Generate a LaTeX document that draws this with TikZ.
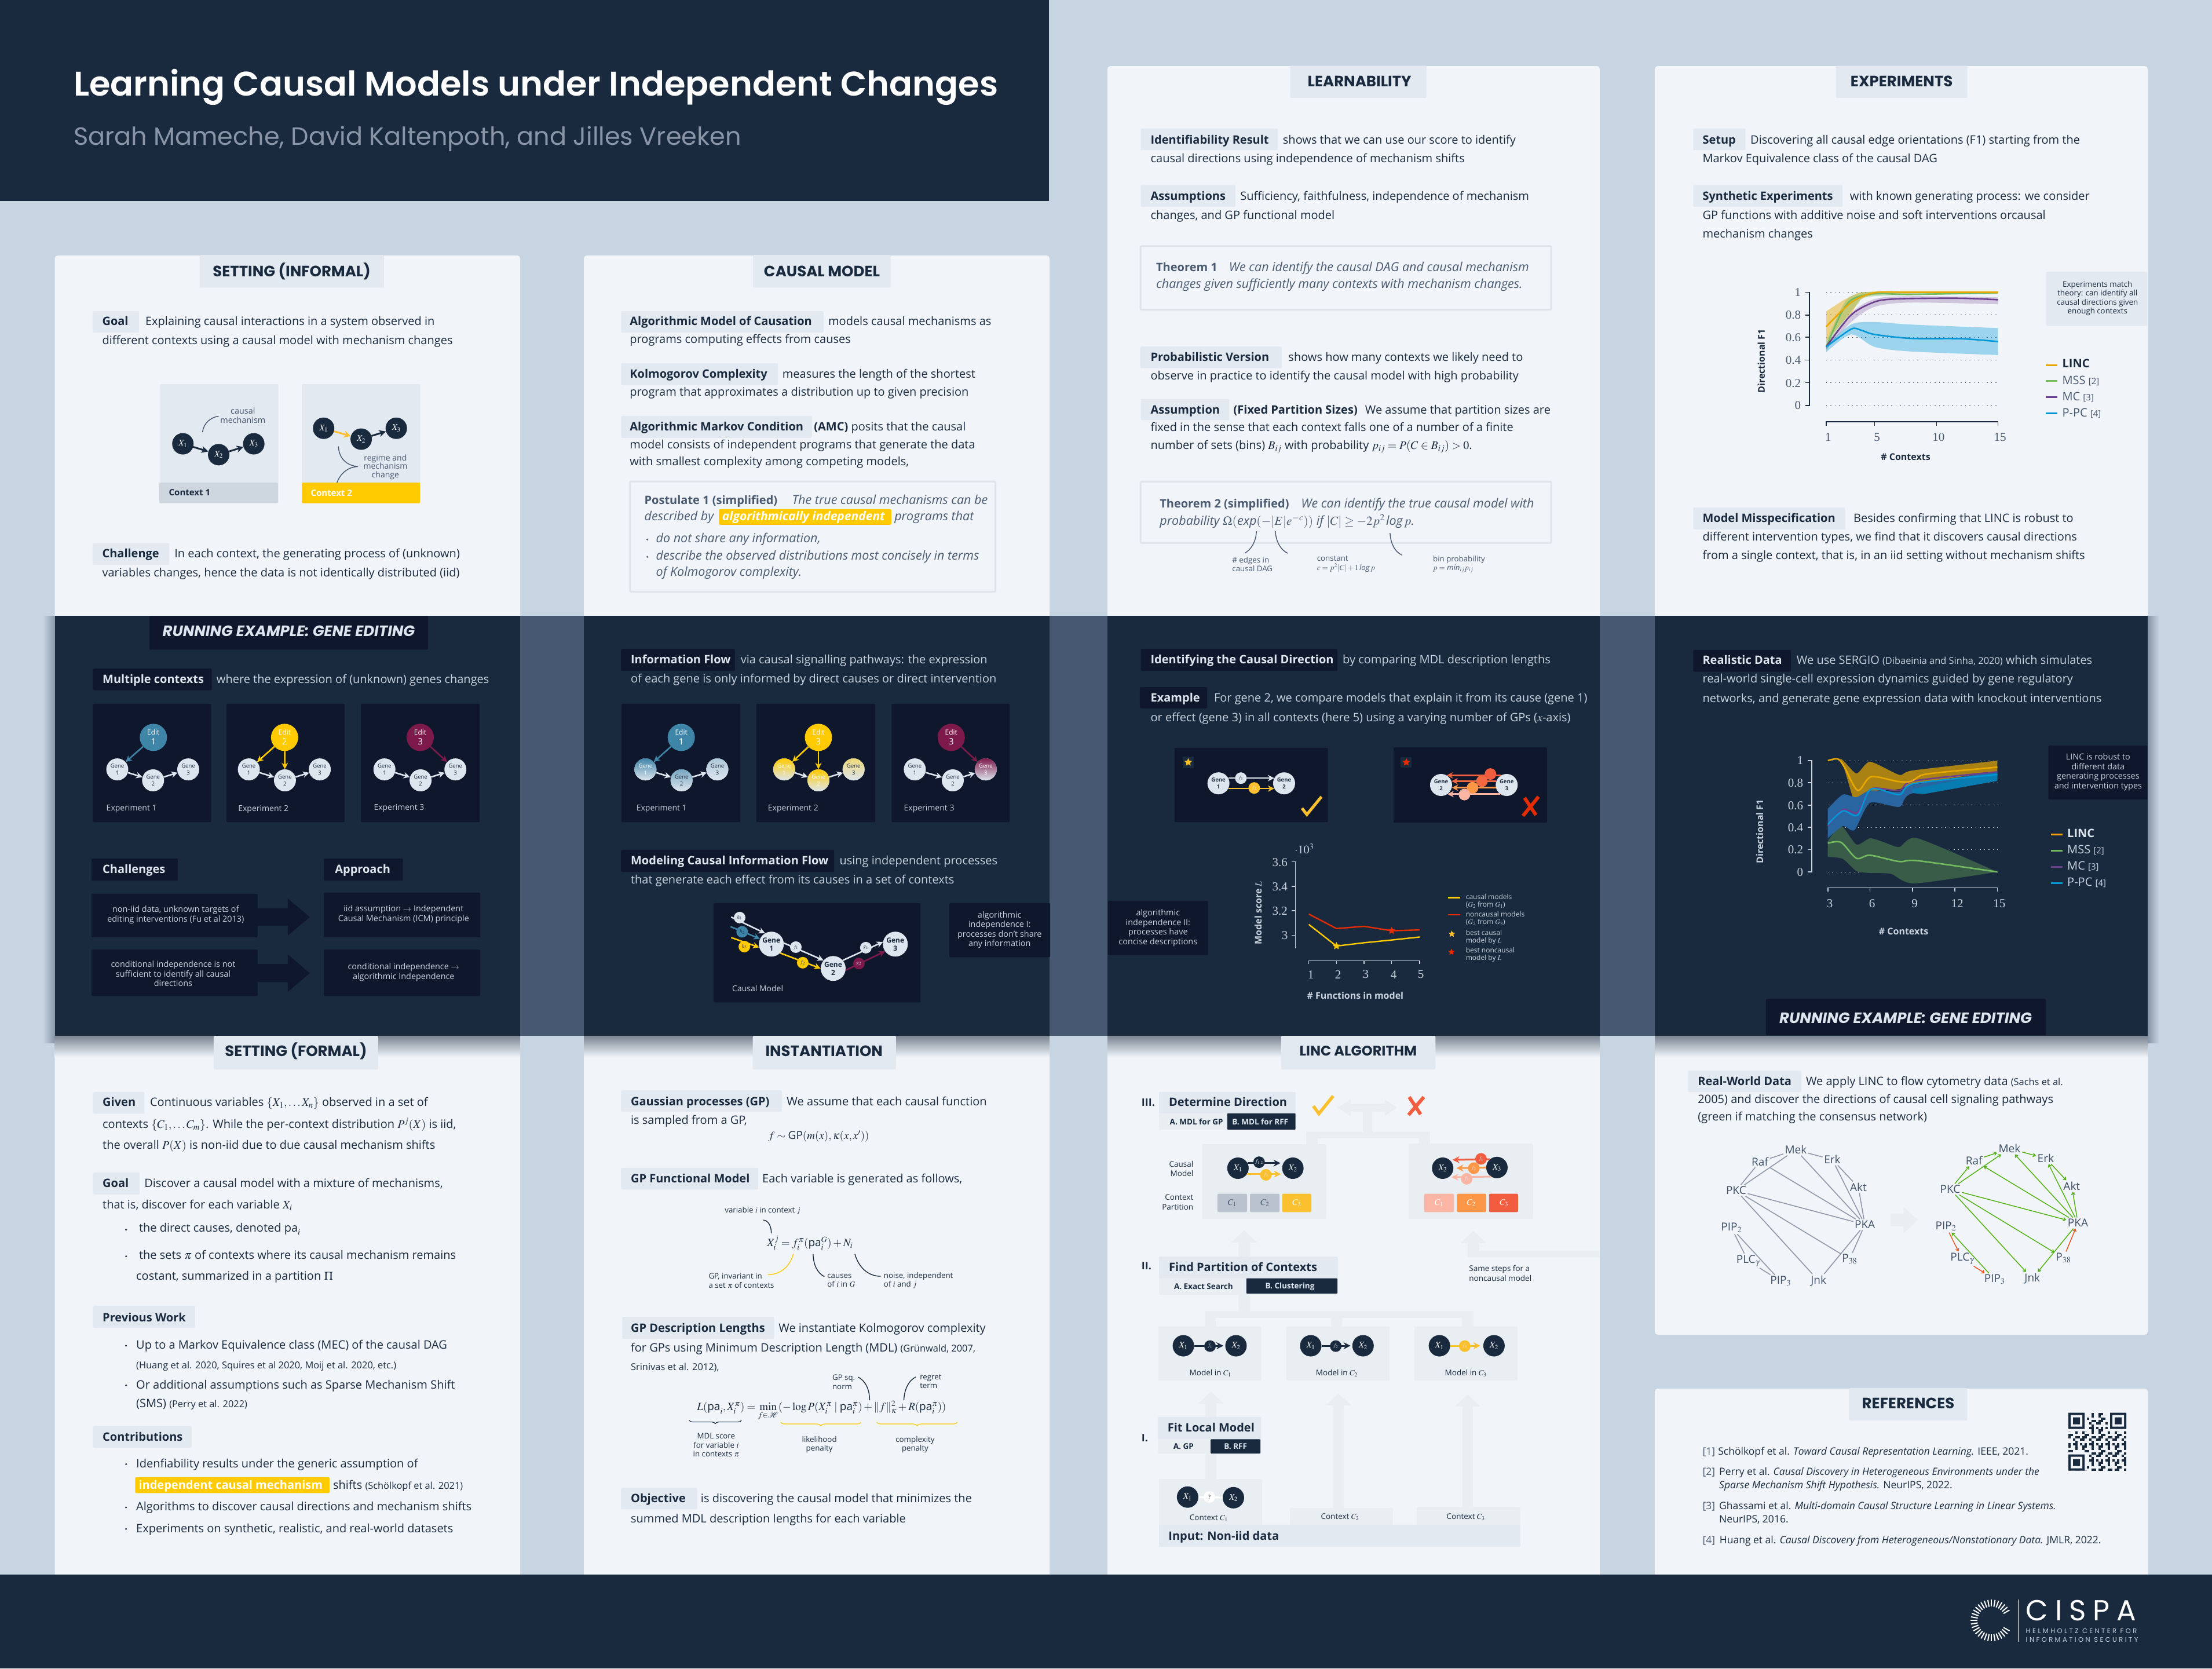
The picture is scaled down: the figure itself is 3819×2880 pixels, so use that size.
\documentclass[tikz,border=0pt]{standalone}
\usepackage{amsmath}
\usepackage{mathptmx}
\usepackage{fontspec}
\setmainfont{Open Sans}
\newfontfamily\headfont{Poppins}
\newfontfamily\titlefont{Poppins SemiBold}
\newfontfamily\tickfont{Liberation Serif}
\usetikzlibrary{arrows.meta,decorations.pathreplacing,shapes.geometric}
\definecolor{bgc}{HTML}{C7D4E1}
\definecolor{panelc}{HTML}{F1F5FA}
\definecolor{tagc}{HTML}{E2E9F1}
\definecolor{inkc}{HTML}{1A2A3E}
\definecolor{gapc}{HTML}{475872}
\definecolor{darkc}{HTML}{0E172B}
\definecolor{lightc}{HTML}{C9D3DF}
\definecolor{palec}{HTML}{DDE5EE}
\definecolor{boxc}{HTML}{DFE3EA}
\definecolor{mutedc}{HTML}{4A5A70}
\definecolor{yellc}{HTML}{FFCB00}
\definecolor{ambc}{HTML}{FBC02D}
\definecolor{bluec}{HTML}{3F85A8}
\definecolor{maroonc}{HTML}{7E1A4B}
\definecolor{redc}{HTML}{E32D00}
\definecolor{coral}{HTML}{F25C3F}
\definecolor{orangc}{HTML}{FB9747}
\definecolor{salmc}{HTML}{FBB5A5}
\definecolor{annotc}{HTML}{47566E}
\definecolor{flowc}{HTML}{E9EEF3}
\definecolor{lincc}{HTML}{E8A800}
\definecolor{mssc}{HTML}{73B95E}
\definecolor{mcc}{HTML}{6E3F8F}
\definecolor{ppcc}{HTML}{0097D6}
\definecolor{netc}{HTML}{3F4F66}
\definecolor{greyedge}{HTML}{8F97A8}
\definecolor{greenedge}{HTML}{4CAF0A}
\definecolor{rededge}{HTML}{F04E1B}
\newcommand{\pa}{\textnormal{pa}}
\newcommand{\reftxt}[1]{{\fontsize{16.4}{20}\selectfont #1}}
\newcommand{\genetrio}[7]{
	\node[genenode,#5] (#1a) at (#2,568) {Gene\\1};
	\node[genenode,#6] (#1b) at (#3,608) {Gene\\2};
	\node[genenode,#7] (#1c) at (#4,568) {Gene\\3};
	\draw[geneedge] (#1a) -- (#1b);
	\draw[geneedge] (#1b) -- (#1c);
}
\tikzset{
	crop/.style n args={4}{shift={(#1,#2)},x=#3pt,y=-#4pt},
	body/.style={anchor=base west,inner sep=0pt,text=inkc,font=\fontsize{20}{24}\selectfont},
	bodyb/.style={body,font=\fontsize{20}{24}\selectfont\bfseries},
	bodyi/.style={body,text=mutedc,font=\fontsize{21.5}{26}\selectfont\itshape},
	bodym/.style={body,text=mutedc,font=\fontsize{20}{24}\selectfont\bfseries},
	bodyd/.style={body,text=lightc},
	bodydb/.style={body,text=palec,font=\fontsize{20}{24}\selectfont\bfseries},
	secthead/.style={inner sep=0pt,text=inkc,font=\headfont\bfseries\fontsize{26}{26}\selectfont},
	runhead/.style={inner sep=0pt,text=palec,font=\headfont\bfseries\itshape\fontsize{26}{26}\selectfont},
	tagfill/.style={fill=tagc,rounded corners=2pt},
	darkfill/.style={fill=darkc,rounded corners=2pt},
	note/.style={inner sep=0pt,align=center,text=lightc,font=\fontsize{14.4}{16.5}\selectfont},
	notel/.style={inner sep=0pt,align=left,anchor=west,text=annotc,font=\fontsize{13.3}{15.5}\selectfont},
	lightnote/.style={note,text=inkc,font=\fontsize{13.3}{15.5}\selectfont},
	caption/.style={anchor=base west,inner sep=0pt,text=lightc,font=\fontsize{14}{16}\selectfont},
	bullet/.style={circle,fill=inkc,minimum size=3.5pt,inner sep=0pt},
	varnode/.style={circle,fill=inkc,text=white,minimum size=37pt,inner sep=0pt,font=\fontsize{15}{15}\selectfont},
	edgedark/.style={draw=inkc,line width=3pt,-{Stealth[length=12pt,width=12pt]}},
	edgeyell/.style={edgedark,draw=#1},
	edgeyell/.default=ambc,
	annot/.style={draw=annotc,line width=1.4pt},
	genenode/.style={circle,fill=palec,text=inkc,minimum size=38pt,inner sep=0pt,align=center,font=\fontsize{9.5}{12}\selectfont},
	geneshade/.style={top color=#1,middle color=#1,bottom color=palec,shading angle=0,text=white},
	editnode/.style={circle,text=white,minimum size=47pt,inner sep=0pt,align=center,font=\fontsize{12}{17}\selectfont},
	geneedge/.style={draw=palec,line width=2.6pt,-{Stealth[length=11pt,width=11pt]}},
	funcnode/.style={circle,fill=#1,text=inkc,minimum size=20pt,inner sep=0pt,font=\fontsize{9}{9}\selectfont},
	tick/.style={inner sep=0pt,font=\tickfont\fontsize{21}{21}\selectfont},
	axislbl/.style={inner sep=0pt,font=\fontsize{16}{16}\selectfont\bfseries},
	starnode/.style={star,star points=5,star point ratio=2.1,fill=#1,minimum size=14pt,inner sep=0pt},
	netnode/.style={inner sep=2.5pt,text=netc,font=\fontsize{19}{22}\selectfont},
	netedge/.style={draw=greyedge,line width=1.6pt},
	netgreen/.style={draw=greenedge,line width=1.4pt,-{Straight Barb[length=4pt,width=6pt]}},
	netred/.style={netgreen,draw=rededge},
	refline/.style={anchor=base west,inner sep=0pt,text=inkc,font=\fontsize{17.5}{20}\selectfont},
	legtxt/.style={anchor=base west,inner sep=0pt,font=\fontsize{20}{22}\selectfont},
	stepnum/.style={anchor=base west,inner sep=0pt,text=inkc,font=\fontsize{18}{20}\selectfont\bfseries},
	optlbl/.style={anchor=base west,inner sep=0pt,text=inkc,font=\fontsize{13.5}{15}\selectfont\bfseries},
	optlbld/.style={optlbl,text=palec},
	algnote/.style={inner sep=0pt,text=inkc,font=\fontsize{13.5}{16.5}\selectfont},
}
\begin{document}
\begin{tikzpicture}[x=1pt,y=-1pt]
	\useasboundingbox (0,0) rectangle (3819,2880);
	\fill[bgc] (0,0) rectangle (3819,2880);
	\fill[panelc,rounded corners=5pt] (94.5,441) rectangle (898,2740);
	\fill[panelc,rounded corners=5pt] (1008,441) rectangle (1812,2740);
	\fill[panelc,rounded corners=5pt] (1912,114) rectangle (2762,2740);
	\fill[panelc,rounded corners=5pt] (2857,114) rectangle (3708,2304);
	\fill[panelc,rounded corners=5pt] (2857,2397) rectangle (3708,2740);
	\shade[left color=gapc!50!bgc,right color=bgc] (3708,1063) rectangle (3728,1800);
	\shade[right color=gapc!50!bgc,left color=bgc] (74,1063) rectangle (94.5,1800);
	\shade[top color=inkc!55!panelc,bottom color=panelc] (94.5,1788) rectangle (898,1825);
	\shade[top color=inkc!55!panelc,bottom color=panelc] (1008,1788) rectangle (1812,1825);
	\shade[top color=inkc!55!panelc,bottom color=panelc] (1912,1788) rectangle (2762,1825);
	\shade[top color=inkc!55!panelc,bottom color=panelc] (2857,1788) rectangle (3708,1825);
	\fill[gapc] (94.5,1063) rectangle (3708,1788);
	\fill[inkc] (94.5,1063) rectangle (898,1788);
	\fill[inkc] (1008,1063) rectangle (1812,1788);
	\fill[inkc] (1912,1063) rectangle (2762,1788);
	\fill[inkc] (2857,1063) rectangle (3708,1788);
	\fill[inkc] (0,0) rectangle (1811,347);
	\fill[inkc] (0,2718) rectangle (3819,2880);
	\node[anchor=base west,inner sep=0pt,text=white,font=\titlefont\fontsize{59}{60}\selectfont] (title) at (127,165) {Learning Causal Models under Independent Changes};
	\node[anchor=base west,inner sep=0pt,text=annotc!55!palec,font=\headfont\fontsize{43}{46}\selectfont] (authors) at (127,250) {Sarah Mameche, David Kaltenpoth, and Jilles Vreeken};

	\begin{scope}[crop={0}{400}{.606}{.4464}]
		\fill[tagfill] (569,90) rectangle (1094,216);
		\node[secthead] (ahead) at (831,153) {SETTING (INFORMAL)};
		\fill[tagfill] (264,307) rectangle (396,390);
		\node[bodyb] (agoal) at (291,362) {Goal};
		\node[body] (agoala) at (414,362) {Explaining causal interactions in a system observed in};
		\node[body] (agoalb) at (291,436) {different contexts using a causal model with mechanism changes};
		\fill[tagfill] (456,589) rectangle (793,1050);
		\fill[fill=inkc!10!tagc,rounded corners=2pt] (454,970) rectangle (792,1050);
		\node[anchor=base west,inner sep=0pt,text=inkc,font=\fontsize{15}{18}\selectfont\bfseries] (actxa) at (481,1021) {Context 1};
		\node[varnode] (axa) at (521,820) {$X_1$};
		\node[varnode] (axb) at (623,862) {$X_2$};
		\node[varnode] (axc) at (723,820) {$X_3$};
		\draw[edgedark] (axa) -- (axb);
		\draw[edgedark] (axb) -- (axc);
		\node[note,text=annotc] (acm) at (692,710) {causal\\mechanism};
		\draw[annot] (577,775) .. controls (580,740) and (600,718) .. (623,713);
		\fill[tagfill] (860,589) rectangle (1197,1050);
		\fill[yellc,rounded corners=2pt] (860,970) rectangle (1197,1050);
		\node[anchor=base west,inner sep=0pt,text=white,font=\fontsize{15}{18}\selectfont\bfseries] (actxb) at (885,1023) {Context 2};
		\node[varnode] (aya) at (922,760) {$X_1$};
		\node[varnode] (ayb) at (1029,802) {$X_2$};
		\node[varnode] (ayc) at (1129,760) {$X_3$};
		\draw[edgeyell] (aya) -- (ayb);
		\draw[edgedark] (ayb) -- (ayc);
		\draw[annot] (964,830) .. controls (966,880) and (990,905) .. (1020,908) .. controls (990,910) and (970,935) .. (960,970);
		\node[note,text=annotc,font=\fontsize{14}{14.5}\selectfont] (arm) at (1098,910) {regime and\\mechanism\\change};
		\fill[tagfill] (264,1204) rectangle (482,1288);
		\node[bodyb] (achal) at (291,1260) {Challenge};
		\node[body] (achala) at (497,1260) {In each context, the generating process of (unknown)};
		\node[body] (achalb) at (291,1334) {variables changes, hence the data is not identically distributed (iid)};
	\end{scope}

	\begin{scope}[crop={950}{400}{.574}{.4464}]
		\fill[tagfill] (610,90) rectangle (1024,216);
		\node[secthead] (bhead) at (817,153) {CAUSAL MODEL};
		\fill[tagfill] (213,307) rectangle (822,390);
		\node[bodyb] (bamc) at (239,362) {Algorithmic Model of Causation};
		\node[body] (bamca) at (836,362) {models causal mechanisms as};
		\node[body] (bamcb) at (239,431) {programs computing effects from causes};
		\fill[tagfill] (213,508) rectangle (685,594);
		\node[bodyb] (bkol) at (239,566) {Kolmogorov Complexity};
		\node[body] (bkola) at (698,566) {measures the length of the shortest};
		\node[body] (bkolb) at (239,635) {program that approximates a distribution up to given precision};
		\fill[tagfill] (213,712) rectangle (787,797);
		\node[bodyb] (bmar) at (239,770) {Algorithmic Markov Condition};
		\node[body] (bmara) at (793,770) {\textbf{(AMC)} posits that the causal};
		\node[body] (bmarb) at (239,838) {model consists of independent programs that generate the data};
		\node[body] (bmarc) at (239,905) {with smallest complexity among competing models,};
		\draw[boxc,line width=3pt,rounded corners=2pt] (240,966) rectangle (1339,1392);
		\node[bodym] (bpos) at (283,1055) {Postulate 1 (simplified)};
		\node[bodyi] (bposa) at (727,1055) {The true causal mechanisms can be};
		\node[bodyi] (bposb) at (283,1117) {described by};
		\fill[yellc,rounded corners=2pt] (507,1073) rectangle (1026,1133);
		\node[bodyi,text=white,font=\fontsize{21}{26}\selectfont\bfseries\itshape] (bposc) at (517,1117) {algorithmically independent};
		\node[bodyi] (bposd) at (1035,1117) {programs that};
		\node[bullet,fill=mutedc] (bbula) at (292,1190) {};
		\node[bodyi] (bbulat) at (318,1202) {do not share any information,};
		\node[bullet,fill=mutedc] (bbulb) at (292,1257) {};
		\node[bodyi] (bbulbt) at (318,1269) {describe the observed distributions most concisely in terms};
		\node[bodyi] (bbulc) at (318,1332) {of Kolmogorov complexity.};
	\end{scope}

	\begin{scope}[crop={80}{1060}{.542}{.472}]
		\fill[darkfill] (328,7) rectangle (1216,130);
		\node[runhead] (chead) at (772,63) {RUNNING EXAMPLE: GENE EDITING};
		\fill[darkfill] (148,199) rectangle (527,279);
		\node[bodydb] (cmul) at (179,253) {Multiple contexts};
		\node[bodyd] (cmula) at (542,253) {where the expression of (unknown) genes changes};
		\fill[darkfill] (148,328) rectangle (525,761);
		\fill[darkfill] (574,328) rectangle (950,761);
		\fill[darkfill] (1002,328) rectangle (1380,761);
		\genetrio{cg}{226}{340}{452}{}{}{}
		\node[editnode,fill=bluec] (cea) at (341,451) {Edit\\{\fontsize{15}{15}\selectfont 1}};
		\draw[geneedge,draw=bluec] (cea) -- (cga);
		\node[caption] (cla) at (191,720) {Experiment 1};
		\genetrio{ch}{645}{760}{871}{}{}{}
		\node[editnode,fill=yellc] (ceb) at (759,451) {Edit\\{\fontsize{15}{15}\selectfont 2}};
		\draw[geneedge,draw=yellc] (ceb) -- (cha);
		\draw[geneedge,draw=yellc] (ceb) -- (chb);
		\node[caption] (clb) at (611,722) {Experiment 2};
		\genetrio{ci}{1077}{1192}{1303}{}{}{}
		\node[editnode,fill=maroonc] (cec) at (1191,451) {Edit\\{\fontsize{15}{15}\selectfont 3}};
		\draw[geneedge,draw=maroonc] (cec) -- (cic);
		\node[caption] (clc) at (1043,718) {Experiment 3};
		\fill[darkfill] (144,894) rectangle (419,975);
		\node[bodydb] (cchal) at (179,949) {Challenges};
		\fill[darkfill] (884,894) rectangle (1136,975);
		\node[bodydb] (cappr) at (919,949) {Approach};
		\fill[darkc] (673,1076) -- (769,1076) -- (769,1040) -- (839,1108) -- (769,1176) -- (769,1140) -- (673,1140) -- cycle;
		\fill[darkc] (673,1280) -- (769,1280) -- (769,1244) -- (839,1313) -- (769,1382) -- (769,1346) -- (673,1346) -- cycle;
		\fill[darkfill] (144,1023) rectangle (673,1182);
		\fill[darkfill] (144,1227) rectangle (673,1397);
		\fill[darkfill] (884,1019) rectangle (1382,1182);
		\fill[darkfill] (884,1227) rectangle (1382,1397);
		\node[note] (cna) at (412,1100) {non-iid data, unknown targets of\\editing interventions (Fu et al 2013)};
		\node[note] (cnb) at (404,1315) {conditional independence is not\\sufficient to identify all causal\\directions};
		\node[note] (cnc) at (1138,1098) {iid assumption $\rightarrow$ Independent\\Causal Mechanism (ICM) principle};
		\node[note] (cnd) at (1138,1310) {conditional independence $\rightarrow$\\algorithmic Independence};
	\end{scope}

	\begin{scope}[crop={1000}{1060}{.542}{.472}]
		\fill[darkfill] (133,127) rectangle (496,208);
		\node[bodydb] (dinf) at (164,181) {Information Flow};
		\node[bodyd] (dinfa) at (514,181) {via causal signalling pathways: the expression};
		\node[bodyd] (dinfb) at (164,250) {of each gene is only informed by direct causes or direct intervention};
		\fill[darkfill] (135,328) rectangle (513,761);
		\fill[darkfill] (564,328) rectangle (943,761);
		\fill[darkfill] (995,328) rectangle (1371,761);
		\genetrio{dg}{211}{326}{440}{geneshade=bluec}{geneshade=bluec!65!palec,text=inkc}{geneshade=bluec!30!palec,text=inkc}
		\node[editnode,fill=bluec] (dea) at (325,451) {Edit\\{\fontsize{15}{15}\selectfont 1}};
		\draw[geneedge,draw=bluec] (dea) -- (dga);
		\node[caption] (dla) at (182,720) {Experiment 1};
		\genetrio{dh}{653}{762}{874}{geneshade=yellc}{geneshade=yellc}{geneshade=yellc!50!palec,text=inkc}
		\node[editnode,fill=yellc] (deb) at (762,451) {Edit\\{\fontsize{15}{15}\selectfont 3}};
		\draw[geneedge,draw=yellc] (deb) -- (dha);
		\draw[geneedge,draw=yellc] (deb) -- (dhb);
		\node[caption] (dlb) at (601,720) {Experiment 2};
		\genetrio{di}{1069}{1190}{1295}{}{}{geneshade=maroonc}
		\node[editnode,fill=maroonc] (dec) at (1185,451) {Edit\\{\fontsize{15}{15}\selectfont 3}};
		\draw[geneedge,draw=maroonc] (dec) -- (dic);
		\node[caption] (dlc) at (1034,720) {Experiment 3};
		\fill[darkfill] (133,862) rectangle (812,943);
		\node[bodydb] (dmod) at (164,917) {Modeling Causal Information Flow};
		\node[bodyd] (dmoda) at (829,917) {using independent processes};
		\node[bodyd] (dmodb) at (164,987) {that generate each effect from its causes in a set of contexts};
		\fill[darkfill] (428,1057) rectangle (1087,1420);
		\node[genenode,minimum size=43pt,font=\fontsize{12}{14}\selectfont\bfseries] (gone) at (612,1207) {Gene\\1};
		\node[genenode,minimum size=43pt,font=\fontsize{12}{14}\selectfont\bfseries] (gtwo) at (809,1296) {Gene\\2};
		\node[genenode,minimum size=43pt,font=\fontsize{12}{14}\selectfont\bfseries] (gthree) at (1007,1207) {Gene\\3};
		\coordinate (ha) at (484,1108);
		\coordinate (hb) at (482,1143);
		\coordinate (hc) at (484,1183);
		\draw[geneedge] (ha) -- (gone.120);
		\draw[geneedge,draw=bluec] (hb) -- (gone.155);
		\draw[geneedge,draw=yellc] (hc) -- (gone.195);
		\draw[geneedge] (gone.5) -- (gtwo.140);
		\draw[geneedge,draw=yellc] (gone.-45) -- (gtwo.180);
		\draw[geneedge] (gtwo.40) -- (gthree.170);
		\draw[geneedge,draw=maroonc] (gtwo.-8) -- (gthree.215);
		\node[funcnode=palec] (dha) at (511,1110) {$h_1$};
		\node[funcnode=bluec] (dhb) at (519,1162) {$h_2$};
		\node[funcnode=yellc] (dhc) at (526,1216) {$h_3$};
		\node[funcnode=palec] (dfa) at (690,1218) {$f_1$};
		\node[funcnode=yellc] (dfb) at (712,1275) {$f_2$};
		\node[funcnode=palec] (dja) at (913,1220) {$g_1$};
		\node[funcnode=maroonc,text=palec] (djb) at (891,1278) {$g_2$};
		\node[caption] (dcm) at (487,1381) {Causal Model};
		\fill[darkfill] (1179,1057) rectangle (1500,1255);
		\node[note] (dnote) at (1339,1155) {algorithmic\\independence I:\\processes don't share\\any information};
	\end{scope}

	\begin{scope}[crop={80}{1780}{.542}{.574}]
		\fill[tagfill] (533,14) rectangle (1057,115);
		\node[secthead] (ehead) at (795,60) {SETTING (FORMAL)};
		\fill[tagfill] (148,183) rectangle (312,248);
		\node[bodyb] (egiv) at (179,226) {Given};
		\node[body] (egiva) at (330,226) {Continuous variables $\{X_1,\dots X_n\}$ observed in a set of};
		\node[body] (egivb) at (179,291) {contexts $\{C_1,\dots C_m\}$. While the per-context distribution $P^j(X)$ is iid,};
		\node[body] (egivc) at (179,355) {the overall $P(X)$ is non-iid due to due causal mechanism shifts};
		\fill[tagfill] (148,425) rectangle (297,491);
		\node[bodyb] (egoal) at (179,470) {Goal};
		\node[body] (egoala) at (312,470) {Discover a causal model with a mixture of mechanisms,};
		\node[body] (egoalb) at (179,534) {that is, discover for each variable $X_i$};
		\node[bullet] (ebua) at (254,597) {};
		\node[body] (ebuat) at (295,603) {the direct causes, denoted $\pa_i$};
		\node[bullet] (ebub) at (254,677) {};
		\node[body] (ebubt) at (295,685) {the sets $\pi$ of contexts where its causal mechanism remains};
		\node[body] (ebubu) at (286,748) {costant, summarized in a partition $\Pi$};
		\fill[tagfill] (148,826) rectangle (474,892);
		\node[bodyb] (eprev) at (179,873) {Previous Work};
		\node[bullet] (ebuc) at (254,946) {};
		\node[body] (ebuct) at (286,956) {Up to a Markov Equivalence class (MEC) of the causal DAG};
		\node[body] (ebucu) at (286,1015) {\reftxt{(Huang et al. 2020, Squires et al 2020, Moij et al. 2020, etc.)}};
		\node[bullet] (ebud) at (254,1065) {};
		\node[body] (ebudt) at (286,1075) {Or additional assumptions such as Sparse Mechanism Shift};
		\node[body] (ebudu) at (286,1131) {(SMS) \reftxt{(Perry et al. 2022)}};
		\fill[tagfill] (148,1187) rectangle (463,1253);
		\node[bodyb] (econ) at (179,1232) {Contributions};
		\node[bullet] (ebue) at (254,1302) {};
		\node[body] (ebuet) at (286,1312) {Idenfiability results under the generic assumption of};
		\fill[yellc,rounded corners=2pt] (283,1341) rectangle (902,1389);
		\node[bodyb,text=white] (ebueu) at (294,1377) {independent causal mechanism};
		\node[body] (ebuev) at (913,1377) {shifts \reftxt{(Schölkopf et al. 2021)}};
		\node[bullet] (ebuf) at (254,1432) {};
		\node[body] (ebuft) at (286,1442) {Algorithms to discover causal directions and mechanism shifts};
		\node[bullet] (ebug) at (254,1497) {};
		\node[body] (ebugt) at (286,1507) {Experiments on synthetic, realistic, and real-world datasets};
	\end{scope}

	\begin{scope}[crop={1000}{1780}{.542}{.574}]
		\fill[tagfill] (553,14) rectangle (1009,115);
		\node[secthead] (fhead) at (780,60) {INSTANTIATION};
		\fill[tagfill] (133,178) rectangle (646,242);
		\node[bodyb] (fgau) at (164,223) {Gaussian processes (GP)};
		\node[body] (fgaua) at (661,223) {We assume that each causal function};
		\node[body] (fgaub) at (164,280) {is sampled from a GP,};
		\node[inner sep=0pt,text=inkc,font=\fontsize{19}{22}\selectfont] (feqa) at (763,316) {$f\sim\textnormal{GP}(m(x),\kappa(x,x'))$};
		\fill[tagfill] (133,411) rectangle (570,476);
		\node[bodyb] (ffun) at (164,455) {GP Functional Model};
		\node[body] (ffuna) at (583,455) {Each variable is generated as follows,};
		\node[inner sep=0pt,text=inkc,font=\fontsize{19}{22}\selectfont] (feqb) at (735,636) {$X_i^j=f_i^\pi(\pa_i^G)+N_i$};
		\node[notel,anchor=center,text=inkc] (fva) at (584,539) {variable $i$ in context $j$};
		\draw[annot,draw=inkc] (587,568) .. controls (605,570) and (612,590) .. (612,608);
		\draw[annot,draw=yellc] (682,670) .. controls (670,710) and (640,732) .. (601,732);
		\draw[annot,draw=inkc] (745,670) .. controls (746,705) and (760,728) .. (781,738);
		\draw[annot,draw=inkc] (878,670) .. controls (890,710) and (920,737) .. (960,737);
		\node[notel,text=inkc] (fvb) at (412,750) {GP, invariant in\\a set $\pi$ of contexts};
		\node[notel,text=inkc] (fvc) at (790,750) {causes\\of $i$ in $G$};
		\node[notel,text=inkc] (fvd) at (970,750) {noise, independent\\of $i$ and $j$};
		\fill[tagfill] (137,859) rectangle (621,925);
		\node[bodyb] (fdes) at (164,905) {GP Description Lengths};
		\node[body] (fdesa) at (635,905) {We instantiate Kolmogorov complexity};
		\node[body] (fdesb) at (164,965) {for GPs using Minimum Description Length (MDL) \reftxt{(Grünwald, 2007,}};
		\node[body] (fdesc) at (164,1020) {\reftxt{Srinivas et al. 2012),}};
		\node[inner sep=0pt,text=inkc,font=\fontsize{19}{22}\selectfont] (feqc) at (772,1142) {$L(\pa_i,X_i^\pi)=\min\limits_{f\in\mathcal{H}}(-\log P(X_i^\pi\mid\pa_i^\pi)+\|f\|_\kappa^2+R(\pa_i^\pi))$};
		\draw[inkc,line width=1.2pt,decorate,decoration={brace,mirror,amplitude=6pt}] (350,1170) -- (517,1170);
		\draw[yellc,line width=1.2pt,decorate,decoration={brace,mirror,amplitude=6pt}] (642,1176) -- (897,1176);
		\draw[yellc,line width=1.2pt,decorate,decoration={brace,mirror,amplitude=6pt}] (948,1176) -- (1204,1176);
		\node[lightnote] (fma) at (436,1245) {MDL score\\for variable $i$\\in contexts $\pi$};
		\node[lightnote] (fmb) at (765,1243) {likelihood\\penalty};
		\node[lightnote] (fmc) at (1070,1243) {complexity\\penalty};
		\node[notel,text=inkc] (fmd) at (806,1055) {GP sq.\\norm};
		\draw[annot,draw=inkc] (888,1040) .. controls (910,1050) and (925,1075) .. (925,1110);
		\node[notel,text=inkc] (fme) at (1085,1053) {regret\\term};
		\draw[annot,draw=inkc] (1072,1040) .. controls (1050,1050) and (1036,1075) .. (1034,1110);
		\fill[tagfill] (133,1373) rectangle (376,1438);
		\node[bodyb] (fobj) at (164,1418) {Objective};
		\node[body] (fobja) at (387,1418) {is discovering the causal model that minimizes the};
		\node[body] (fobjb) at (164,1479) {summed MDL description lengths for each variable};
	\end{scope}

	\begin{scope}[crop={1900}{100}{.561}{.612}]
		\fill[tagfill] (584,22) rectangle (1003,113);
		\node[secthead] (ghead) at (797,66) {LEARNABILITY};
		\fill[tagfill] (124,199) rectangle (545,260);
		\node[bodyb] (gide) at (154,242) {Identifiability Result};
		\node[body] (gidea) at (561,242) {shows that we can use our score to identify};
		\node[body] (gideb) at (154,295) {causal directions using independence of mechanism shifts};
		\fill[tagfill] (124,359) rectangle (415,420);
		\node[bodyb] (gass) at (154,401) {Assumptions};
		\node[body] (gassa) at (430,401) {Sufficiency, faithfulness, independence of mechanism};
		\node[body] (gassb) at (154,455) {changes, and GP functional model};
		\draw[boxc,line width=3pt,rounded corners=2pt] (123,531) rectangle (1387,710);
		\node[bodym] (gtha) at (171,602) {Theorem 1};
		\node[bodyi] (gthaa) at (395,602) {We can identify the causal DAG and causal mechanism};
		\node[bodyi] (gthab) at (171,650) {changes given sufficiently many contexts with mechanism changes.};
		\fill[tagfill] (122,814) rectangle (558,875);
		\node[bodyb] (gpro) at (154,856) {Probabilistic Version};
		\node[body] (gproa) at (578,856) {shows how many contexts we likely need to};
		\node[body] (gprob) at (154,908) {observe in practice to identify the causal model with high probability};
		\fill[tagfill] (124,962) rectangle (396,1022);
		\node[bodyb] (gasu) at (154,1004) {Assumption};
		\node[bodyb] (gasua) at (409,1004) {(Fixed Partition Sizes)};
		\node[body] (gasub) at (814,1004) {We assume that partition sizes are};
		\node[body] (gasuc) at (154,1053) {fixed in the sense that each context falls one of a number of a finite};
		\node[body] (gasud) at (154,1104) {number of sets (bins) $B_{ij}$ with probability $p_{ij}=P(C\in B_{ij})>0$.};
		\draw[boxc,line width=3pt,rounded corners=2pt] (123,1195) rectangle (1387,1368);
		\node[bodym] (gthb) at (182,1268) {Theorem 2 (simplified)};
		\node[bodyi] (gthba) at (617,1268) {We can identify the true causal model with};
		\node[bodyi] (gthbb) at (182,1318) {probability $\Omega(\textit{exp}(-|E|e^{-c}))$ if $|C|\geq-2p^2\,\textit{log}\,p$.};
		\draw[annot] (480,1335) .. controls (478,1365) and (465,1385) .. (444,1397);
		\draw[annot] (538,1335) .. controls (540,1365) and (555,1388) .. (576,1397);
		\draw[annot] (891,1340) .. controls (893,1370) and (905,1392) .. (927,1402);
		\node[notel] (gna) at (405,1428) {\# edges in\\causal DAG};
		\node[notel] (gnb) at (666,1428) {constant\\$c=p^2|C|+1\,\textit{log}\,p$};
		\node[notel] (gnc) at (1023,1428) {bin probability\\$p=\textit{min}_{ij}p_{ij}$};
	\end{scope}

	\begin{scope}[crop={1900}{1060}{.561}{.472}]
		\fill[darkfill] (124,127) rectangle (729,208);
		\node[bodydb] (hide) at (154,181) {Identifying the Causal Direction};
		\node[bodyd] (hidea) at (745,181) {by comparing MDL description lengths};
		\fill[darkfill] (121,267) rectangle (328,345);
		\node[bodydb] (hexa) at (154,320) {Example};
		\node[bodyd] (hexaa) at (349,320) {For gene 2, we compare models that explain it from its cause (gene 1)};
		\node[bodyd] (hexab) at (154,393) {or effect (gene 3) in all contexts (here 5) using a varying number of GPs ($x$-axis)};
		\fill[darkfill] (228,489) rectangle (700,761);
		\fill[darkfill] (902,487) rectangle (1374,763);
		\fill[inkc] (253,522) rectangle (287,564);
		\node[starnode=ambc] (hsa) at (270,542) {};
		\fill[inkc] (923,524) rectangle (957,562);
		\node[starnode=redc] (hsb) at (941,542) {};
		\node[genenode,font=\fontsize{9.5}{12}\selectfont\bfseries] (hga) at (363,619) {Gene\\1};
		\node[genenode,font=\fontsize{9.5}{12}\selectfont\bfseries] (hgb) at (565,619) {Gene\\2};
		\draw[geneedge] (hga.28) -- (hgb.152);
		\draw[geneedge,draw=ambc] (hga.-28) -- (hgb.-152);
		\node[funcnode=palec] (hfa) at (432,600) {$f_1$};
		\node[funcnode=ambc,text=palec] (hfb) at (473,636) {$f_2$};
		\draw[ambc,line width=5pt] (620,710) -- (635,733) -- (680,668);
		\node[genenode,font=\fontsize{9.5}{12}\selectfont\bfseries] (hgc) at (1048,625) {Gene\\2};
		\node[genenode,font=\fontsize{9.5}{12}\selectfont\bfseries] (hgd) at (1250,625) {Gene\\3};
		\draw[geneedge,draw=coral] (hgd.120) -- (hgc.60);
		\draw[geneedge,draw=coral!80!orangc] (hgd.160) -- (hgc.20);
		\draw[geneedge,draw=orangc] (hgd.194) -- (hgc.-14);
		\draw[geneedge,draw=salmc] (hgd.235) -- (hgc.-55);
		\node[funcnode=coral] (hfc) at (1200,585) {};
		\node[funcnode=coral!80!orangc] (hfd) at (1174,611) {};
		\node[funcnode=orangc] (hfe) at (1145,635) {};
		\node[funcnode=salmc] (hff) at (1120,660) {};
		\draw[redc,line width=6pt] (1305,672) -- (1340,735) (1348,668) -- (1300,738);
		\draw[lightc,line width=1.4pt] (600,906) -- (600,1222);
		\draw[lightc,line width=1.4pt] (588,906) -- (600,906) (588,996) -- (600,996) (588,1085) -- (600,1085) (588,1175) -- (600,1175);
		\node[tick,text=lightc] (hya) at (552,908) {3.6};
		\node[tick,text=lightc] (hyb) at (552,997) {3.4};
		\node[tick,text=lightc] (hyc) at (552,1086) {3.2};
		\node[tick,text=lightc] (hyd) at (567,1176) {3};
		\node[inner sep=0pt,text=lightc,font=\fontsize{20}{20}\selectfont] (hyx) at (627,858) {$\cdot10^3$};
		\node[axislbl,rotate=90,text=lightc] (hyl) at (485,1093) {Model score $L$};
		\draw[lightc,line width=1.4pt] (641,1280) -- (641,1268) -- (982,1268) -- (982,1280) (726,1268) -- (726,1280) (811,1268) -- (811,1280) (896,1268) -- (896,1280);
		\node[tick,text=lightc] (hxa) at (647,1318) {1};
		\node[tick,text=lightc] (hxb) at (731,1318) {2};
		\node[tick,text=lightc] (hxc) at (816,1318) {3};
		\node[tick,text=lightc] (hxd) at (902,1318) {4};
		\node[tick,text=lightc] (hxe) at (986,1318) {5};
		\node[axislbl,text=lightc] (hxl) at (784,1396) {\# Functions in model};
		\draw[yellc,line width=2.4pt] (641,1135) -- (726,1214) -- (811,1202) -- (896,1192) -- (982,1181);
		\draw[redc,line width=2.4pt] (641,1097) -- (726,1150) -- (811,1142) -- (896,1158) -- (982,1155);
		\node[starnode=yellc] (hpa) at (726,1214) {};
		\node[starnode=redc] (hpb) at (896,1158) {};
		\draw[yellc,line width=2.4pt] (1069,1037) -- (1107,1037);
		\draw[redc,line width=2.4pt] (1069,1099) -- (1107,1099);
		\node[notel,text=lightc,font=\fontsize{12}{13}\selectfont] (hla) at (1124,1050) {causal models\\($G_2$ from $G_1$)};
		\node[notel,text=lightc,font=\fontsize{12}{13}\selectfont] (hlb) at (1124,1113) {noncausal models\\($G_2$ from $G_3$)};
		\node[starnode=ambc,minimum size=12pt] (hlc) at (1081,1170) {};
		\node[notel,text=lightc,font=\fontsize{12}{13}\selectfont] (hld) at (1124,1181) {best causal\\model by $L$};
		\node[starnode=redc,minimum size=12pt] (hle) at (1080,1236) {};
		\node[notel,text=lightc,font=\fontsize{12}{13}\selectfont] (hlf) at (1124,1245) {best noncausal\\model by $L$};
		\fill[darkfill] (23,1049) rectangle (331,1247);
		\node[note] (hnote) at (177,1148) {algorithmic\\independence II:\\processes have\\concise descriptions};
	\end{scope}

	\begin{scope}[crop={1900}{1780}{.561}{.574}]
		\fill[tagfill] (556,14) rectangle (1031,115);
		\node[secthead,font=\headfont\bfseries\fontsize{24}{24}\selectfont] (ihead) at (793,60) {LINC ALGORITHM};
		\fill[flowc] (730,230) -- (770,205) -- (770,218) -- (875,218) -- (875,205) -- (912,230) -- (875,255) -- (875,242) -- (836,242) -- (836,303) -- (1014,303) -- (1014,340) -- (980,340) -- (980,322) -- (668,322) -- (668,340) -- (633,340) -- (633,303) -- (808,303) -- (808,242) -- (770,242) -- (770,255) -- cycle;
		\fill[flowc] (402,635) -- (442,599) -- (482,635) -- (460,635) -- (460,842) -- (1147,842) -- (1147,888) -- (1113,888) -- (1113,862) -- (744,862) -- (744,888) -- (710,888) -- (710,862) -- (355,862) -- (355,888) -- (322,888) -- (322,842) -- (425,842) -- (425,635) -- cycle;
		\fill[flowc] (1107,637) -- (1147,601) -- (1187,637) -- (1165,637) -- (1165,660) -- (1536,660) -- (1536,680) -- (1130,680) -- (1130,637) -- cycle;
		\fill[flowc] (301,1120) -- (340,1084) -- (380,1120) -- (356,1120) -- (356,1347) -- (323,1347) -- (323,1120) -- cycle;
		\fill[flowc] (692,1125) -- (732,1090) -- (772,1125) -- (748,1125) -- (748,1434) -- (716,1434) -- (716,1125) -- cycle;
		\fill[flowc] (1091,1128) -- (1130,1093) -- (1168,1128) -- (1146,1128) -- (1146,1431) -- (1114,1431) -- (1114,1128) -- cycle;
		\node[stepnum] (istc) at (126,226) {III.};
		\fill[fill=flowc,rounded corners=2pt] (180,183) rectangle (600,296);
		\fill[tagfill] (180,183) rectangle (600,247);
		\fill[inkc,rounded corners=1pt] (390,247) rectangle (600,296);
		\node[bodyb] (idet) at (210,225) {Determine Direction};
		\node[optlbl] (ideta) at (213,281) {A. MDL for GP};
		\node[optlbld] (idetb) at (405,281) {B. MDL for RFF};
		\draw[ambc,line width=5.5pt] (655,225) -- (672,248) -- (716,195);
		\draw[coral,line width=6pt] (950,198) -- (985,250) (995,198) -- (948,252);
		\fill[flowc,rounded corners=2pt] (313,340) rectangle (695,564);
		\fill[flowc,rounded corners=2pt] (948,338) rectangle (1331,564);
		\node[algnote,align=right,anchor=east] (icm) at (286,414) {Causal\\Model};
		\node[algnote,align=right,anchor=east] (icp) at (286,514) {Context\\Partition};
		\node[varnode] (ixa) at (423,412) {$X_1$};
		\node[varnode] (ixb) at (592,412) {$X_2$};
		\draw[edgedark,shorten >=5pt] (ixa.28) -- (ixb.152);
		\draw[edgeyell,shorten >=5pt] (ixa.-33) -- (ixb.-147);
		\node[funcnode=inkc,text=palec] (ifa) at (488,394) {$f_{1,2}$};
		\node[funcnode=ambc,text=palec] (ifb) at (509,432) {$f_3$};
		\fill[fill=inkc!20!tagc,rounded corners=2pt] (360,489) rectangle (451,544);
		\fill[fill=inkc!20!tagc,rounded corners=2pt] (460,489) rectangle (551,544);
		\fill[ambc,rounded corners=2pt] (559,489) rectangle (649,544);
		\node[inner sep=0pt,text=annotc,font=\fontsize{15}{15}\selectfont] (ica) at (405,516) {$C_1$};
		\node[inner sep=0pt,text=annotc,font=\fontsize{15}{15}\selectfont] (icb) at (506,516) {$C_2$};
		\node[inner sep=0pt,text=white,font=\fontsize{15}{15}\selectfont] (icc) at (604,516) {$C_3$};
		\node[varnode] (iya) at (1053,412) {$X_2$};
		\node[varnode] (iyb) at (1220,410) {$X_3$};
		\draw[edgeyell=coral,shorten >=5pt] (iyb.130) -- (iya.50);
		\draw[edgeyell=orangc,shorten >=5pt] (iyb.180) -- (iya.0);
		\draw[edgeyell=salmc,shorten >=5pt] (iyb.237) -- (iya.-57);
		\node[funcnode=coral,text=palec] (ifc) at (1171,384) {$f_1$};
		\node[funcnode=orangc,text=palec] (ifd) at (1149,412) {$f_2$};
		\node[funcnode=salmc,text=palec] (ife) at (1127,444) {$f_3$};
		\fill[salmc,rounded corners=2pt] (996,489) rectangle (1088,544);
		\fill[orangc,rounded corners=2pt] (1097,489) rectangle (1187,544);
		\fill[coral,rounded corners=2pt] (1196,489) rectangle (1285,544);
		\node[inner sep=0pt,text=white,font=\fontsize{15}{15}\selectfont] (icd) at (1042,516) {$C_1$};
		\node[inner sep=0pt,text=white,font=\fontsize{15}{15}\selectfont] (ice) at (1141,516) {$C_2$};
		\node[inner sep=0pt,text=white,font=\fontsize{15}{15}\selectfont] (icf) at (1242,516) {$C_3$};
		\node[stepnum] (istb) at (126,717) {II.};
		\fill[fill=flowc,rounded corners=2pt] (180,678) rectangle (730,793);
		\fill[tagfill] (180,678) rectangle (730,743);
		\fill[inkc,rounded corners=1pt] (449,743) rectangle (729,789);
		\node[bodyb] (ifin) at (210,722) {Find Partition of Contexts};
		\node[optlbl] (ifina) at (226,776) {A. Exact Search};
		\node[optlbld] (ifinb) at (507,774) {B. Clustering};
		\node[algnote,align=left,anchor=west] (isame) at (1134,728) {Same steps for a\\noncausal model};
		\fill[flowc,rounded corners=2pt] (178,888) rectangle (495,1051);
		\fill[flowc,rounded corners=2pt] (572,888) rectangle (889,1051);
		\fill[flowc,rounded corners=2pt] (966,888) rectangle (1283,1051);
		\node[varnode] (ima) at (255,946) {$X_1$};
		\node[varnode] (imb) at (417,946) {$X_2$};
		\draw[edgedark,shorten >=3pt] (ima) -- (imb);
		\node[funcnode=inkc,text=palec] (ifg) at (337,947) {$f_1$};
		\node[algnote,font=\fontsize{13.5}{15}\selectfont] (imla) at (338,1029) {Model in $C_1$};
		\node[varnode] (imc) at (647,946) {$X_1$};
		\node[varnode] (imd) at (808,946) {$X_2$};
		\draw[edgedark,shorten >=3pt] (imc) -- (imd);
		\node[funcnode=inkc,text=palec] (ifh) at (724,947) {$f_2$};
		\node[algnote,font=\fontsize{13.5}{15}\selectfont] (imlb) at (727,1029) {Model in $C_2$};
		\node[varnode] (ime) at (1043,946) {$X_1$};
		\node[varnode] (imf) at (1211,946) {$X_2$};
		\draw[edgeyell,shorten >=5pt] (ime) -- (imf);
		\node[funcnode=ambc,text=palec] (ifi) at (1121,947) {$f_3$};
		\node[algnote,font=\fontsize{13.5}{15}\selectfont] (imlc) at (1124,1029) {Model in $C_3$};
		\node[stepnum] (ista) at (126,1234) {I.};
		\fill[fill=flowc,rounded corners=2pt] (177,1160) rectangle (494,1270);
		\fill[tagfill] (177,1160) rectangle (494,1227);
		\fill[inkc,rounded corners=1pt] (339,1227) rectangle (492,1270);
		\node[bodyb] (ifit) at (206,1205) {Fit Local Model};
		\node[optlbl] (ifita) at (224,1257) {A. GP};
		\node[optlbld] (ifitb) at (380,1257) {B. RFF};
		\fill[flowc,rounded corners=2pt] (180,1347) rectangle (497,1490);
		\fill[flowc,rounded corners=2pt] (583,1434) rectangle (900,1490);
		\fill[flowc,rounded corners=2pt] (973,1431) rectangle (1291,1490);
		\fill[tagfill] (180,1484) rectangle (1292,1551);
		\node[bodyb] (iinp) at (209,1530) {Input: Non-iid data};
		\node[varnode] (iqa) at (268,1401) {$X_1$};
		\node[varnode] (iqb) at (409,1403) {$X_2$};
		\draw[white,line width=3pt] (iqa) -- (iqb);
		\node[funcnode=white] (iqq) at (335,1401) {?};
		\node[algnote,font=\fontsize{13.5}{15}\selectfont] (iba) at (333,1464) {Context $C_1$};
		\node[algnote,font=\fontsize{13.5}{15}\selectfont] (ibb) at (737,1461) {Context $C_2$};
		\node[algnote,font=\fontsize{13.5}{15}\selectfont] (ibc) at (1124,1461) {Context $C_3$};
	\end{scope}

	\begin{scope}[crop={2840}{100}{.574}{.612}]
		\fill[tagfill] (575,22) rectangle (969,113);
		\node[secthead] (jhead) at (772,66) {EXPERIMENTS};
		\fill[tagfill] (145,199) rectangle (302,260);
		\node[bodyb] (jset) at (173,242) {Setup};
		\node[body] (jseta) at (317,242) {Discovering all causal edge orientations (F1) starting from the};
		\node[body] (jsetb) at (173,295) {Markov Equivalence class of the causal DAG};
		\fill[tagfill] (145,359) rectangle (594,420);
		\node[bodyb] (jsyn) at (173,401) {Synthetic Experiments};
		\node[body] (jsyna) at (616,401) {with known generating process: we consider};
		\node[body] (jsynb) at (173,455) {GP functions with additive noise and soft interventions orcausal};
		\node[body] (jsync) at (173,508) {mechanism changes};
		\draw[mutedc,line width=1pt,dash pattern=on 1.5pt off 6pt] (545,661) -- (1062,661) (545,725) -- (1062,725) (545,788) -- (1062,788) (545,852) -- (1062,852) (545,916) -- (1062,916) (545,980) -- (1062,980);
		\fill[lincc,opacity=.45] plot[smooth] coordinates {(545,715) (620,672) (691,659) (1062,659)} -- plot[smooth] coordinates {(1062,665) (691,668) (620,720) (545,800)} -- cycle;
		\fill[mssc,opacity=.35] plot[smooth] coordinates {(545,800) (600,690) (640,665) (691,660) (1062,660)} -- plot[smooth] coordinates {(1062,666) (691,672) (640,695) (600,740) (545,825)} -- cycle;
		\fill[mcc,opacity=.25] plot[smooth] coordinates {(545,812) (620,720) (691,680) (800,672) (1062,675)} -- plot[smooth] coordinates {(1062,695) (800,690) (691,702) (620,745) (545,822)} -- cycle;
		\fill[ppcc,opacity=.35] plot[smooth] coordinates {(545,810) (620,752) (691,745) (800,752) (1062,762)} -- plot[smooth] coordinates {(1062,838) (800,828) (691,815) (620,780) (545,830)} -- cycle;
		\draw[mssc,line width=2.6pt] plot[smooth] coordinates {(545,815) (590,720) (625,680) (691,665) (800,667) (1062,662)};
		\draw[mcc,line width=2.6pt] plot[smooth] coordinates {(545,815) (620,725) (691,688) (750,680) (850,678) (960,678) (1062,682)};
		\draw[ppcc,line width=2.6pt] plot[smooth] coordinates {(545,815) (620,765) (650,768) (691,780) (800,791) (950,792) (1062,800)};
		\draw[lincc,line width=2.6pt] plot[smooth] coordinates {(545,758) (620,690) (691,662) (800,661) (1062,661)};
		\draw[inkc,line width=1.6pt] (482,661) -- (495,661) -- (495,980) -- (482,980) (482,725) -- (495,725) (482,788) -- (495,788) (482,852) -- (495,852) (482,916) -- (495,916);
		\node[tick,text=mutedc,anchor=east] (jya) at (469,661) {1};
		\node[tick,text=mutedc,anchor=east] (jyb) at (469,725) {0.8};
		\node[tick,text=mutedc,anchor=east] (jyc) at (469,789) {0.6};
		\node[tick,text=mutedc,anchor=east] (jyd) at (469,853) {0.4};
		\node[tick,text=mutedc,anchor=east] (jye) at (469,917) {0.2};
		\node[tick,text=mutedc,anchor=east] (jyf) at (469,980) {0};
		\draw[inkc,line width=1.6pt] (545,1038) -- (545,1026) -- (1062,1026) -- (1062,1038) (691,1026) -- (691,1038) (877,1026) -- (877,1038);
		\node[tick,text=mutedc] (jxa) at (551,1070) {1};
		\node[tick,text=mutedc] (jxb) at (698,1070) {5};
		\node[tick,text=mutedc] (jxc) at (883,1070) {10};
		\node[tick,text=mutedc] (jxd) at (1068,1070) {15};
		\node[axislbl,rotate=90,text=inkc] (jyl) at (350,855) {Directional F1};
		\node[axislbl,text=inkc] (jxl) at (784,1125) {\# Contexts};
		\fill[tagfill] (1206,603) rectangle (1511,756);
		\node[lightnote] (jnote) at (1361,678) {Experiments match\\theory: can identify all\\causal directions given\\enough contexts};
		\draw[lincc,line width=3pt] (1206,866) -- (1241,866);
		\draw[mssc,line width=3pt] (1206,911) -- (1241,911);
		\draw[mcc,line width=3pt] (1206,957) -- (1241,957);
		\draw[ppcc,line width=3pt] (1206,1003) -- (1241,1003);
		\node[legtxt,text=inkc,font=\fontsize{20}{22}\selectfont\bfseries] (jla) at (1255,874) {LINC};
		\node[legtxt,text=annotc] (jlb) at (1255,920) {MSS {\fontsize{15}{17}\selectfont [2]}};
		\node[legtxt,text=annotc] (jlc) at (1255,966) {MC {\fontsize{15}{17}\selectfont [3]}};
		\node[legtxt,text=annotc] (jld) at (1255,1012) {P-PC {\fontsize{15}{17}\selectfont [4]}};
		\fill[tagfill] (145,1268) rectangle (602,1330);
		\node[bodyb] (jmod) at (173,1309) {Model Misspecification};
		\node[body] (jmoda) at (627,1309) {Besides confirming that LINC is robust to};
		\node[body] (jmodb) at (173,1362) {different intervention types, we find that it discovers causal directions};
		\node[body] (jmodc) at (173,1415) {from a single context, that is, in an iid setting without mechanism shifts};
	\end{scope}

	\begin{scope}[crop={2840}{1060}{.574}{.472}]
		\fill[darkfill] (145,131) rectangle (439,211);
		\node[bodydb] (kreal) at (173,183) {Realistic Data};
		\node[bodyd] (kreala) at (456,183) {We use SERGIO \reftxt{(Dibaeinia and Sinha, 2020)} which simulates};
		\node[bodyd] (krealb) at (173,252) {real-world single-cell expression dynamics guided by gene regulatory};
		\node[bodyd] (krealc) at (173,322) {networks, and generate gene expression data with knockout interventions};
		\draw[lightc,line width=1pt,dash pattern=on 1.5pt off 6pt] (550,536) -- (1060,536) (550,617) -- (1060,617) (550,699) -- (1060,699) (550,780) -- (1060,780) (550,861) -- (1060,861) (550,943) -- (1060,943);
		\fill[mssc!35!inkc] plot[smooth,tension=.4] coordinates {(550,830) (590,775) (636,843) (677,820) (720,835) (765,852) (820,820) (1060,943)} -- plot[smooth,tension=.4] coordinates {(1060,943) (810,985) (740,950) (677,947) (636,940) (595,895) (550,888)} -- cycle;
		\fill[lincc!70!inkc] plot[smooth,tension=.4] coordinates {(550,536) (590,530) (636,583) (677,540) (765,588) (805,572) (1060,536)} -- plot[smooth,tension=.4] coordinates {(1060,575) (815,620) (765,640) (677,650) (636,703) (590,535) (550,536)} -- cycle;
		\fill[ppcc!60!mcc!80!inkc] plot[smooth,tension=.4] coordinates {(550,712) (595,660) (636,670) (677,645) (765,650) (805,625) (1060,575)} -- plot[smooth,tension=.4] coordinates {(1060,610) (805,655) (765,705) (677,690) (630,790) (595,775) (550,820)} -- cycle;
		\fill[ppcc!75!inkc] (805,640) -- (1060,578) -- (1060,610) -- (840,658) -- (805,655) -- cycle;
		\draw[mssc,line width=2.6pt] plot[smooth,tension=.5] coordinates {(550,838) (590,835) (636,893) (677,882) (765,905) (820,902) (1060,943)};
		\draw[mcc,line width=2.6pt] plot[smooth,tension=.5] coordinates {(550,775) (595,715) (640,725) (680,640) (765,645) (810,610) (1060,577)};
		\draw[ppcc,line width=2.6pt] plot[smooth,tension=.5] coordinates {(550,770) (595,720) (640,735) (680,640) (765,660) (810,620) (1060,587)};
		\draw[lincc,line width=2.6pt] plot[smooth,tension=.5] coordinates {(550,536) (580,530) (600,560) (640,645) (680,595) (760,612) (800,612) (830,590) (880,580) (1060,560)};
		\draw[lightc,line width=1.6pt] (490,536) -- (502,536) -- (502,943) -- (490,943) (490,617) -- (502,617) (490,699) -- (502,699) (490,780) -- (502,780) (490,861) -- (502,861);
		\node[tick,text=lightc,anchor=east] (kya) at (476,536) {1};
		\node[tick,text=lightc,anchor=east] (kyb) at (476,618) {0.8};
		\node[tick,text=lightc,anchor=east] (kyc) at (476,700) {0.6};
		\node[tick,text=lightc,anchor=east] (kyd) at (476,781) {0.4};
		\node[tick,text=lightc,anchor=east] (kye) at (476,862) {0.2};
		\node[tick,text=lightc,anchor=east] (kyf) at (476,944) {0};
		\draw[lightc,line width=1.6pt] (550,1015) -- (550,1001) -- (1060,1001) -- (1060,1015) (677,1001) -- (677,1015) (805,1001) -- (805,1015) (932,1001) -- (932,1015);
		\node[tick,text=lightc] (kxa) at (556,1058) {3};
		\node[tick,text=lightc] (kxb) at (683,1058) {6};
		\node[tick,text=lightc] (kxc) at (811,1058) {9};
		\node[tick,text=lightc] (kxd) at (939,1058) {12};
		\node[tick,text=lightc] (kxe) at (1066,1058) {15};
		\node[axislbl,rotate=90,text=lightc] (kyl) at (345,795) {Directional F1};
		\node[axislbl,text=lightc] (kxl) at (778,1160) {\# Contexts};
		\fill[darkfill] (1213,481) rectangle (1511,678);
		\node[note] (knote) at (1363,578) {LINC is robust to\\different data\\generating processes\\and intervention types};
		\draw[lincc,line width=3pt] (1221,806) -- (1256,806);
		\draw[mssc,line width=3pt] (1221,866) -- (1256,866);
		\draw[mcc,line width=3pt] (1221,925) -- (1256,925);
		\draw[ppcc,line width=3pt] (1221,985) -- (1256,985);
		\node[legtxt,text=palec,font=\fontsize{20}{22}\selectfont\bfseries] (kla) at (1270,817) {LINC};
		\node[legtxt,text=lightc] (klb) at (1270,876) {MSS {\fontsize{15}{17}\selectfont [2]}};
		\node[legtxt,text=lightc] (klc) at (1270,936) {MC {\fontsize{15}{17}\selectfont [3]}};
		\node[legtxt,text=lightc] (kld) at (1270,994) {P-PC {\fontsize{15}{17}\selectfont [4]}};
		\fill[darkfill] (364,1407) rectangle (1206,1540);
		\node[runhead] (khead) at (784,1478) {RUNNING EXAMPLE: GENE EDITING};
	\end{scope}

	\begin{scope}[crop={2840}{1780}{.6244}{.7015}]
		\fill[tagfill] (119,97) rectangle (432,150);
		\node[bodyb] (lreal) at (146,133) {Real-World Data};
		\node[body] (lreala) at (445,133) {We apply LINC to flow cytometry data \reftxt{(Sachs et al.}};
		\node[body] (lrealb) at (146,177) {2005) and discover the directions of causal cell signaling pathways};
		\node[body] (lrealc) at (146,220) {(green if matching the consensus network)};
		\node[netnode] (lraf) at (318,321) {Raf};
		\node[netnode] (lmek) at (417,292) {Mek};
		\node[netnode] (lerk) at (518,316) {Erk};
		\node[netnode] (lakt) at (590,384) {Akt};
		\node[netnode] (lpka) at (608,476) {PKA};
		\node[netnode] (lpte) at (566,561) {P$_{38}$};
		\node[netnode] (ljnk) at (480,614) {Jnk};
		\node[netnode] (lpic) at (375,615) {PIP$_3$};
		\node[netnode] (lplc) at (285,565) {PLC$_\gamma$};
		\node[netnode] (lpib) at (239,484) {PIP$_2$};
		\node[netnode] (lpkc) at (252,392) {PKC};
		\draw[netedge] (lraf) -- (lpkc);
		\draw[netedge] (lraf) -- (lmek);
		\draw[netedge] (lmek) -- (lerk);
		\draw[netedge] (lpkc) -- (lmek);
		\draw[netedge] (lmek) -- (lpka);
		\draw[netedge] (lraf) -- (lpka);
		\draw[netedge] (lpkc) -- (lpka);
		\draw[netedge] (lpkc) -- (lpte);
		\draw[netedge] (lpkc) -- (ljnk);
		\draw[netedge] (lerk) -- (lpka);
		\draw[netedge] (lerk) -- (lakt);
		\draw[netedge] (lakt) -- (lpka);
		\draw[netedge] (lpka) -- (ljnk);
		\draw[netedge] (lpka) -- (lpte);
		\draw[netedge] (lpib) -- (lplc);
		\draw[netedge] (lpib) -- (lpic);
		\draw[netedge] (lplc) -- (lpic);
		\fill[flowc] (679,450) -- (715,450) -- (715,432) -- (755,464) -- (715,497) -- (715,480) -- (679,480) -- cycle;
		\node[netnode] (mraf) at (910,318) {Raf};
		\node[netnode] (mmek) at (1008,289) {Mek};
		\node[netnode] (merk) at (1108,313) {Erk};
		\node[netnode] (makt) at (1180,381) {Akt};
		\node[netnode] (mpka) at (1197,472) {PKA};
		\node[netnode] (mpte) at (1157,558) {P$_{38}$};
		\node[netnode] (mjnk) at (1071,609) {Jnk};
		\node[netnode] (mpic) at (967,611) {PIP$_3$};
		\node[netnode] (mplc) at (877,560) {PLC$_\gamma$};
		\node[netnode] (mpib) at (832,480) {PIP$_2$};
		\node[netnode] (mpkc) at (844,389) {PKC};
		\draw[netgreen] (mpkc) -- (mraf);
		\draw[netgreen] (mraf) -- (mmek);
		\draw[netgreen] (mmek) -- (merk);
		\draw[netgreen] (mpkc) -- (mmek);
		\draw[netgreen] (mpka) -- (mmek);
		\draw[netgreen] (mpka) -- (mraf);
		\draw[netgreen] (mpkc) -- (mpka);
		\draw[netgreen] (mpkc) -- (mpte);
		\draw[netgreen] (mpkc) -- (mjnk);
		\draw[netgreen] (mpka) -- (merk);
		\draw[netgreen] (merk) -- (makt);
		\draw[netgreen] (mpka) -- (makt);
		\draw[netgreen] (mpka) -- (mjnk);
		\draw[netred] (mpte) -- (mpka);
		\draw[netred] (mpib) -- (mplc);
		\draw[netgreen] (mpic) -- (mpib);
		\draw[netred] (mplc) -- (mpic);
		\fill[tagfill] (564,878) rectangle (891,958);
		\node[secthead] (lhead) at (728,916) {REFERENCES};
		\node[refline,text=annotc] (lra) at (159,1042) {[1]};
		\node[refline] (lrat) at (202,1042) {Schölkopf et al. \emph{Toward Causal Representation Learning.} IEEE, 2021.};
		\node[refline,text=annotc] (lrb) at (159,1093) {[2]};
		\node[refline] (lrbt) at (205,1093) {Perry et al. \emph{Causal Discovery in Heterogeneous Environments under the}};
		\node[refline] (lrbu) at (205,1125) {\emph{Sparse Mechanism Shift Hypothesis.} NeurIPS, 2022.};
		\node[refline,text=annotc] (lrc) at (159,1177) {[3]};
		\node[refline] (lrct) at (205,1177) {Ghassami et al. \emph{Multi-domain Causal Structure Learning in Linear Systems.}};
		\node[refline] (lrcu) at (205,1209) {NeurIPS, 2016.};
		\node[refline,text=annotc] (lrd) at (159,1261) {[4]};
		\node[refline] (lrdt) at (206,1261) {Huang et al. \emph{Causal Discovery from Heterogeneous/Nonstationary Data.} JMLR, 2022.};
		\begin{scope}[shift={(1171,939)},x=4pt,y=-4pt]
			\foreach \i in {0,...,24}{
				\foreach \j in {0,...,24}{
					\pgfmathtruncatemacro\qm{mod(\i*\i*\j+\j*\j*3+\i*5+\j,7)}
					\ifnum\qm<3 \fill[inkc] (\i,\j) rectangle ++(1,1);\fi
				}
			}
			\fill[panelc] (0,0) rectangle (8,8) (17,0) rectangle (25,8) (0,17) rectangle (8,25);
			\fill[inkc] (0,0) rectangle (7,7) (18,0) rectangle (25,7) (0,18) rectangle (7,25);
			\fill[panelc] (1,1) rectangle (6,6) (19,1) rectangle (24,6) (1,19) rectangle (6,24);
			\fill[inkc] (2,2) rectangle (5,5) (20,2) rectangle (23,5) (2,20) rectangle (5,23);
		\end{scope}
		\begin{scope}[shift={(958,1450)},x=1pt,y=1pt]
			\foreach \a in {30,40,...,330}{
				\draw[white,line width=2pt] (\a:24) -- (\a:36);
			}
		\end{scope}
		\draw[white,line width=1pt] (1032,1398) -- (1032,1502);
		\node[anchor=base west,inner sep=0pt,text=white,font=\headfont\fontsize{50}{50}\selectfont\addfontfeatures{LetterSpace=24}] (lcis) at (1053,1450) {CISPA};
		\node[anchor=base west,inner sep=0pt,text=lightc,font=\headfont\fontsize{11.5}{13}\selectfont\addfontfeatures{LetterSpace=30}] (lcia) at (1053,1482) {HELMHOLTZ CENTER FOR};
		\node[anchor=base west,inner sep=0pt,text=lightc,font=\headfont\fontsize{11.5}{13}\selectfont\addfontfeatures{LetterSpace=30}] (lcib) at (1053,1503) {INFORMATION SECURITY};
	\end{scope}
\end{tikzpicture}
\end{document}
